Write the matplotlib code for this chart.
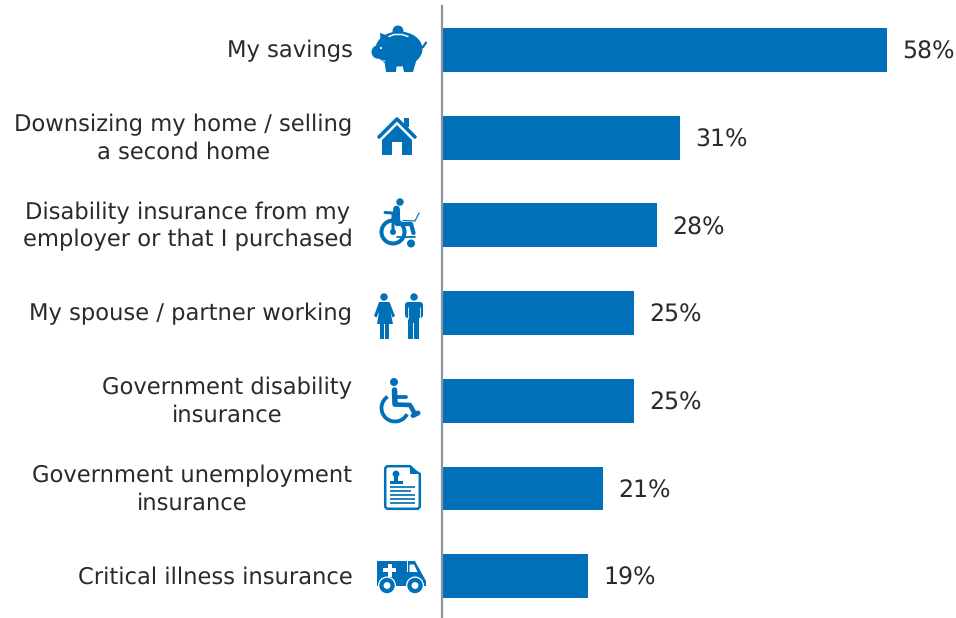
import matplotlib
matplotlib.use("Agg")
import matplotlib.pyplot as plt
from matplotlib.patches import Circle, Ellipse, Polygon, Rectangle, FancyBboxPatch, Arc
from matplotlib.lines import Line2D
from matplotlib.transforms import ScaledTranslation

categories = ["My savings", "Downsizing my home / selling\na second home",
              "Disability insurance from my\nemployer or that I purchased",
              "My spouse / partner working", "Government disability\ninsurance",
              "Government unemployment\ninsurance", "Critical illness insurance"]
values = [58, 31, 28, 25, 25, 21, 19]
value_labels = ["58%", "31%", "28%", "25%", "25%", "21%", "19%"]

BLUE = "#0070B8"
TEXT = "#2A2A2A"
W, H = 956, 618
plt.rcParams["text.hinting"] = "no_hinting"
fig = plt.figure(figsize=(W / 100, H / 100), dpi=100, facecolor="white")
ax = fig.add_axes([442 / W, -2 / H, (W - 442) / W, (H - 4) / H])
y = list(range(len(values)))
ax.barh(y, values, height=0.5, color=BLUE)
ax.set_xlim(0, (W - 442) / 7.67)
ax.set_ylim(len(values) - 0.5, -0.5)
for s in ["top", "right", "bottom"]:
    ax.spines[s].set_visible(False)
ax.spines["left"].set_color("#8A969F")
ax.spines["left"].set_linewidth(1.6)
ax.set_xticks([])
ax.set_yticks(y)
ax.set_yticklabels(categories, fontsize=16.3, color=TEXT, ha="right", va="center", ma="center", linespacing=1.3)
ax.tick_params(axis="y", length=0, pad=64.5)
shift = ScaledTranslation(0, -1.2 / 100, fig.dpi_scale_trans)
for t in ax.get_yticklabels():
    t.set_transform(t.get_transform() + shift)
for yi, v, lab in zip(y, values, value_labels):
    ax.annotate(lab, (v, yi), xytext=(11.0, -1.7), textcoords="offset points",
                va="center", ha="left", fontsize=17, color=TEXT)

# Pixel-space overlay for the pictograms
ov = fig.add_axes([0, 0, 1, 1], facecolor="none")
ov.set_xlim(0, W)
ov.set_ylim(H, 0)
ov.axis("off")
PX = 0.72

def add(p):
    ov.add_patch(p)

def circ(x, y, r, c=BLUE):
    add(Circle((x, y), r, fc=c, ec="none"))

def poly(pts, c=BLUE):
    add(Polygon(pts, closed=True, fc=c, ec="none"))

def rect(x, y, w, h, c=BLUE):
    add(Rectangle((x, y), w, h, fc=c, ec="none"))

def line(xs, ys, lw, c=BLUE, cap="round"):
    ov.add_line(Line2D(xs, ys, lw=lw * PX, color=c, solid_capstyle=cap, solid_joinstyle="round"))

# Piggy bank
add(Ellipse((399, 49), 47, 35, fc=BLUE, ec="none"))
add(Ellipse((379, 52), 15, 14, fc=BLUE, ec="none"))
poly([(380, 33), (386, 35), (394, 36), (381, 47)])
poly([(384, 58), (397, 62), (396, 72), (386, 72)])
poly([(402, 62), (417, 58), (413, 72), (404, 72)])
line([420, 423, 426], [48, 47, 42.5], 2.2)
circ(398, 31, 5.5)
line([389, 394, 402, 408], [36.5, 34.5, 34.5, 36.5], 1.5, c="white")
circ(381, 48, 1.1, c="white")
line([378, 381, 385], [59, 61, 61], 1, c="white")

# House
line([379, 397, 415], [137, 119, 137], 3.6, cap="round")
poly([(382, 140), (397, 125), (412, 140), (412, 155), (402, 155), (402, 142), (392, 142), (392, 155), (382, 155)])
rect(404, 118, 5, 9)

# Disability with laptop
circ(400, 202, 3.7)
line([396.5, 396.8], [209, 222], 6.8)
line([397, 411, 413.5], [224, 224, 233], 4.2)
line([403, 415, 419], [220.5, 221, 213], 1.2)
add(Arc((393, 232), 23, 23, theta1=0, theta2=360, lw=4 * PX, ec=BLUE))
line([385, 393, 393], [212.5, 213, 232], 3)
circ(393, 232, 3)
line([397, 415], [237, 237], 1.8)
circ(411, 243.5, 4)

# Woman and man
circ(384, 297, 3.7)
poly([(379, 302), (389.5, 302), (395, 316), (392.5, 317.5), (390.5, 312), (393, 324), (377, 324), (379, 312), (376.5, 317.5), (374, 316)])
rect(380, 323, 3.6, 16)
rect(385.3, 323, 3.6, 16)
circ(414, 297, 3.7)
add(FancyBboxPatch((405, 302), 18, 16, boxstyle="round,pad=0,rounding_size=3", fc=BLUE, ec="none"))
rect(408, 302, 11, 21)
rect(408, 322, 5, 17)
rect(414, 322, 5, 17)
line([408.2, 408.2], [307, 318.5], 0.8, c="white", cap="butt")
line([419.8, 419.8], [307, 318.5], 0.8, c="white", cap="butt")

# Wheelchair
circ(394, 382, 4)
line([394.5, 395], [390, 404], 5.5)
line([395, 406], [396.5, 396.5], 3.8)
line([395, 410, 415], [404.5, 405, 414], 4.6)
line([413, 418], [415.5, 413], 5)
add(Arc((395, 408), 27, 27, theta1=27, theta2=237, lw=3.8 * PX, ec=BLUE))

# Document
add(FancyBboxPatch((385.2, 466.2), 34.6, 42.6, boxstyle="round,pad=0,rounding_size=3", fc="white", ec=BLUE, lw=2.5 * PX))
poly([(409, 464), (423, 464), (423, 475)], c="white")
poly([(410, 465), (421, 474), (410, 474)])
circ(396, 474, 3.4)
rect(394, 476, 4, 5)
rect(390, 481, 13, 2.5)
for yy, xe in zip([487, 491, 495, 499, 503], [415, 411, 415, 415, 415]):
    line([390, xe], [yy, yy], 1.7, cap="butt")

# Ambulance
poly([(377, 561), (415, 561), (421, 572), (426, 581), (426, 586), (377, 586)])
poly([(407.3, 561), (408.3, 561), (408.3, 572), (407.3, 572)], c="white")
poly([(409.5, 564.5), (414, 564.5), (417.5, 572), (409.5, 572)], c="white")
rect(387.8, 563.5, 4.4, 13, c="white")
rect(383.5, 567.8, 13, 4.4, c="white")
for cx in (387, 415):
    circ(cx, 585.5, 9, c="white")
    circ(cx, 585.5, 7.7)
    circ(cx, 585.5, 3.4, c="white")

fig.savefig("out.png", dpi=100, facecolor="white")
